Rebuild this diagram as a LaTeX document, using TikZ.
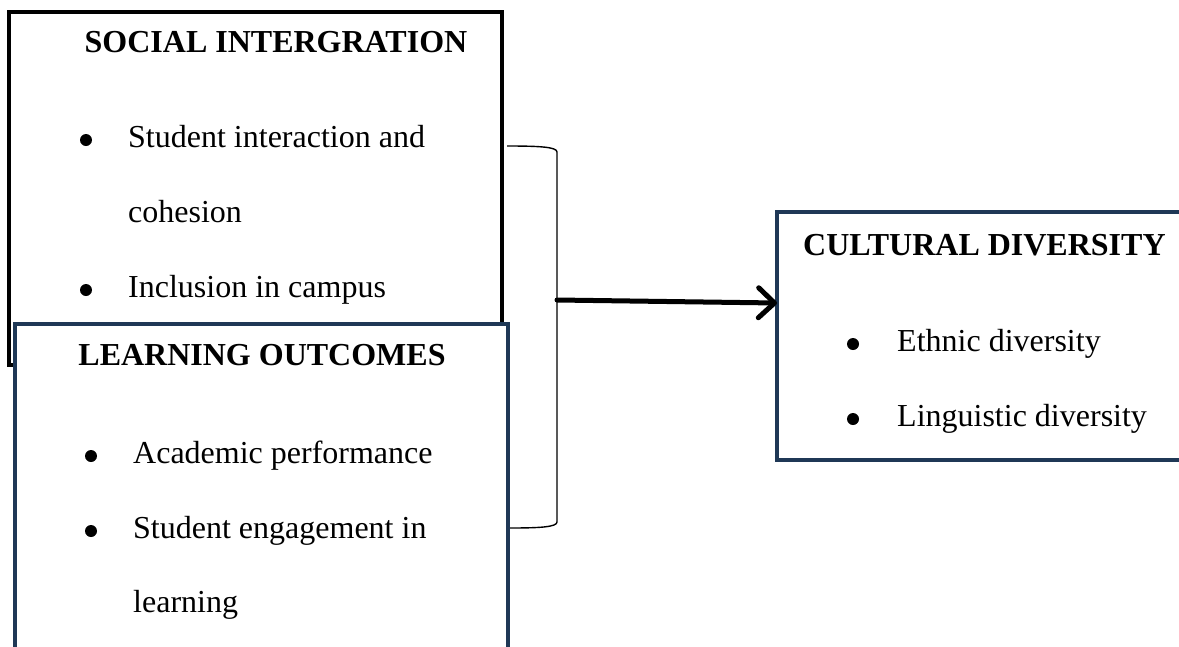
\documentclass[tikz,border=0pt]{standalone}
\usepackage{fontspec}
\setmainfont{Liberation Serif}
\usetikzlibrary{arrows.meta}
\definecolor{navy}{RGB}{31,56,86}
\begin{document}
\begin{tikzpicture}[x=1pt,y=-1pt,
  box/.style={rectangle,draw,line width=4pt,fill=white,inner sep=0pt,outer sep=0pt,anchor=north west},
  head/.style={font=\fontsize{32}{32}\selectfont\bfseries,anchor=base,inner sep=0pt},
  item/.style={font=\fontsize{32}{32}\selectfont,anchor=base west,inner sep=0pt},
  bul/.style={circle,fill=black,inner sep=0pt,minimum size=12pt},
  brack/.style={draw=black,line width=1.4pt},
  arr/.style={draw=black,line width=5pt,line cap=round,-{Straight Barb[length=16pt,width=30pt,line cap=round,line join=round]}}
]
\useasboundingbox (0,0) rectangle (1179,646);
\clip (0,0) rectangle (1179,646);
\fill[white] (0,0) rectangle (1179,646);

% Social integration box
\node[box,draw=black,minimum width=493,minimum height=353] (soc) at (9,12) {};
\node[head] (socH) at (276,52) {SOCIAL INTERGRATION};
\node[bul] (sb1) at (86,140) {};
\node[item] (s1) at (128,147) {Student interaction and};
\node[item] (s2) at (128,222) {cohesion};
\node[bul] (sb2) at (86,290) {};
\node[item] (s3) at (128,297) {Inclusion in campus};

% Learning outcomes box
\node[box,draw=navy,minimum width=493,minimum height=360] (lrn) at (15,324) {};
\node[head] (lrnH) at (262,365) {LEARNING OUTCOMES};
\node[bul] (lb1) at (91,456) {};
\node[item] (l1) at (133,463) {Academic performance};
\node[bul] (lb2) at (91,531) {};
\node[item] (l2) at (133,538) {Student engagement in};
\node[item] (l3) at (133,612) {learning};

% Cultural diversity box
\node[box,draw=navy,minimum width=420,minimum height=248] (cult) at (777,212) {};
\node[head,anchor=base west] (cultH) at (803,255) {CULTURAL DIVERSITY};
\node[bul] (cb1) at (853,344) {};
\node[item] (c1) at (897,351) {Ethnic diversity};
\node[bul] (cb2) at (853,419) {};
\node[item] (c2) at (897,426) {Linguistic diversity};

% bracket
\coordinate (brk) at (557,300);
\draw[brack] (507,146) .. controls (540,146) and (557,147) .. (557,152) -- (557,522) .. controls (557,527) and (540,528) .. (510,528);

% arrow
\draw[arr] (brk) -- ([yshift=-91pt]cult.north west);
\end{tikzpicture}
\end{document}
